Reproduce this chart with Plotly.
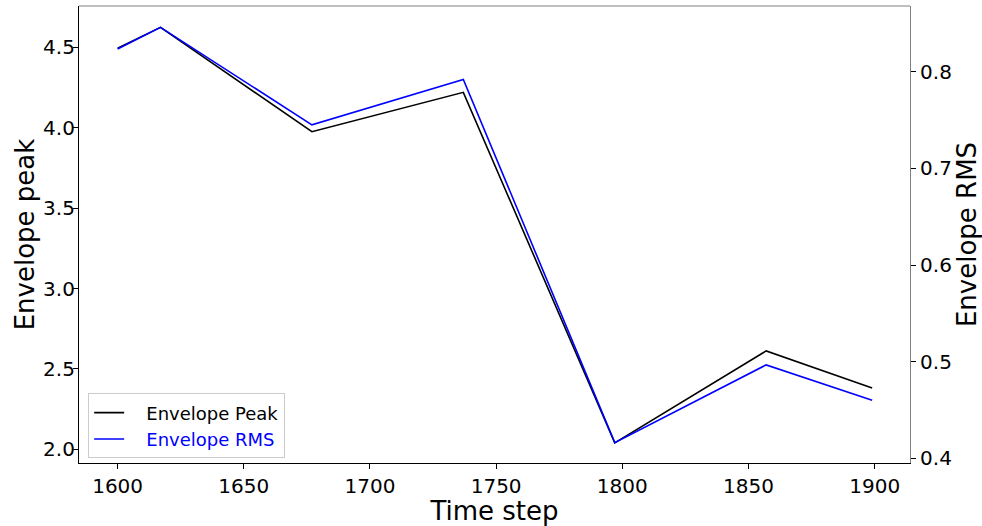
import plotly.graph_objects as go

time_step = [1600, 1617, 1677, 1737, 1797, 1857, 1899]
env_peak = [4.495, 4.624, 3.975, 4.22, 2.04, 2.612, 2.382]
env_rms = [0.8235, 0.8458, 0.745, 0.792, 0.4163, 0.4967, 0.46]

x_ticks = [1600, 1650, 1700, 1750, 1800, 1850, 1900]
left_ticks = [2.0, 2.5, 3.0, 3.5, 4.0, 4.5]
right_ticks = [0.4, 0.5, 0.6, 0.7, 0.8]

FONT = "DejaVu Sans"
PAD = "&nbsp;&nbsp;&nbsp;"

fig = go.Figure()
fig.add_trace(go.Scatter(x=time_step, y=env_peak, mode="lines", name=PAD + "Envelope Peak",
                         line=dict(color="black", width=1.6), yaxis="y"))
fig.add_trace(go.Scatter(x=time_step, y=env_rms, mode="lines",
                         name=PAD + "<span style='color:blue'>Envelope RMS</span>",
                         line=dict(color="blue", width=1.6), yaxis="y2"))

fig.update_layout(
    width=982, height=526,
    margin=dict(l=79, r=69, t=6, b=55),
    paper_bgcolor="white", plot_bgcolor="white",
    font=dict(family=FONT, color="black", size=20),
    showlegend=True,
    legend=dict(x=0.011, y=0.01, xanchor="left", yanchor="bottom",
                bgcolor="rgba(255,255,255,0.8)", bordercolor="#cccccc", borderwidth=1,
                font=dict(family=FONT, size=18, color="black")),
    xaxis=dict(range=[1584.7, 1914], tickvals=x_ticks, ticktext=[str(v) for v in x_ticks],
               showgrid=False, zeroline=False, showline=True, linecolor="black", linewidth=1.2,
               ticks="outside", ticklen=5, tickwidth=1, tickcolor="black",
               tickfont=dict(size=20),
               title=dict(text="Time step", font=dict(size=26), standoff=4)),
    yaxis=dict(range=[1.915, 4.757], tickvals=left_ticks, ticktext=[f"{v:.1f}" for v in left_ticks],
               showgrid=False, zeroline=False, showline=True, linecolor="black", linewidth=1.2,
               ticks="outside", ticklen=5, tickwidth=1, tickcolor="black",
               tickfont=dict(size=20), ticklabelstandoff=-6,
               title=dict(text="Envelope peak", font=dict(size=26), standoff=0)),
    yaxis2=dict(range=[0.3952, 0.8679], tickvals=right_ticks, ticktext=[f"{v:.1f}" for v in right_ticks],
                overlaying="y", side="right",
                showgrid=False, zeroline=False, showline=True, linecolor="#808080", linewidth=1.2,
                ticks="outside", ticklen=5, tickwidth=1, tickcolor="black",
                tickfont=dict(size=20),
                title=dict(text="Envelope RMS", font=dict(size=26), standoff=6)),
    shapes=[dict(type="line", xref="paper", yref="paper", x0=0, x1=1, y0=1, y1=1,
                 line=dict(color="#808080", width=1.2))],
)

fig.write_html("out.html")
